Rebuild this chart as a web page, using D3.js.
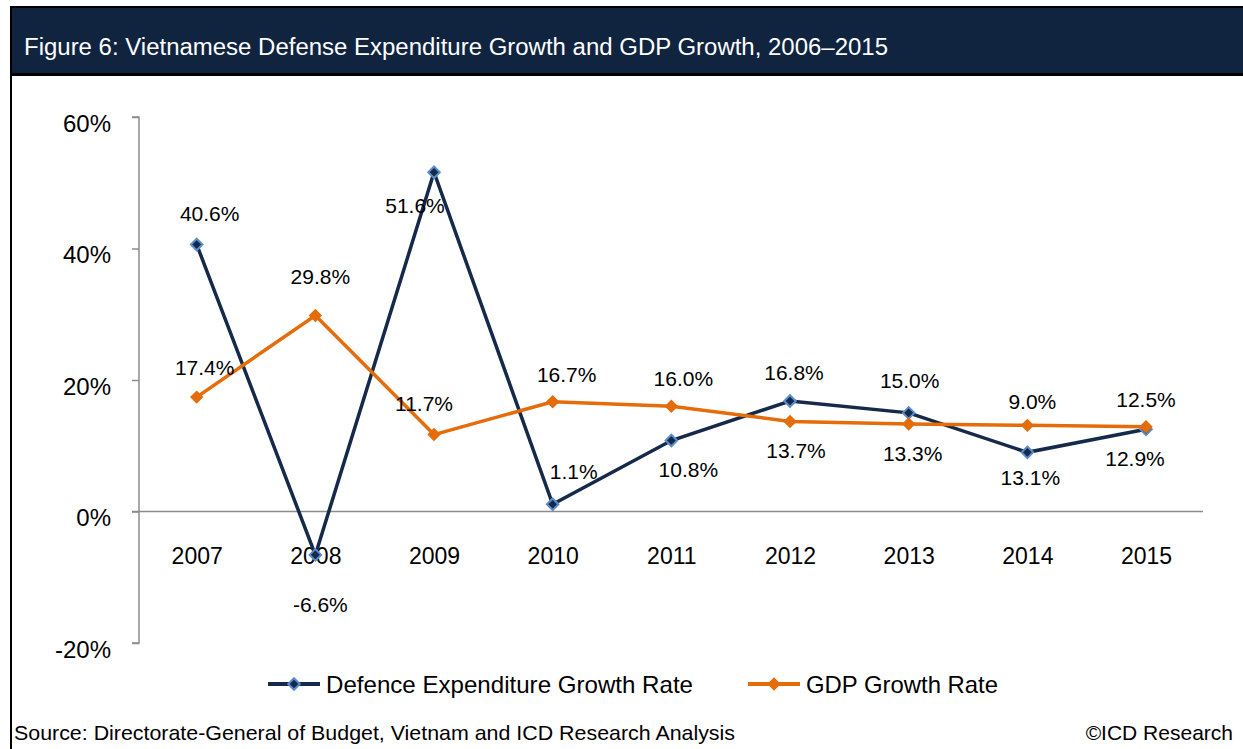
<!DOCTYPE html>
<html>
<head>
<meta charset="utf-8">
<script src="https://cdn.jsdelivr.net/npm/d3@7"></script>
<style>
  html, body { margin: 0; padding: 0; background: #ffffff; }
  svg { display: block; font-family: Arial, "Liberation Sans", sans-serif; }
</style>
</head>
<body>
<svg id="chart" width="1243" height="749"></svg>
<script>
// Years on the category axis
const years = ["2007", "2008", "2009", "2010", "2011", "2012", "2013", "2014", "2015"];

// Annual growth rates, in percent
const defenceGrowth = [40.6, -6.6, 51.6, 1.1, 10.8, 16.8, 15.0, 9.0, 12.5];
const gdpGrowth = [17.4, 29.8, 11.7, 16.7, 16.0, 13.7, 13.3, 13.1, 12.9];

// Value-axis ticks
const yTicks = [-20, 0, 20, 40, 60];

// Series names for the legend
const seriesNames = ["Defence Expenditure Growth Rate", "GDP Growth Rate"];

// Data-label placement relative to each marker (dx, dy of the label centre)
const defenceLabelShift = [[13, -31], [5, 50], [-19, 33], [21, -33], [17, 29], [4, -29], [1, -32], [5, -51], [0, -30]];
const gdpLabelShift = [[8, -30], [5, -39], [-10, -31], [14, -27], [12, -28], [6, 29], [4, 29], [3, 52], [-11, 32]];

const NAVY = "#11243f";
const LINE_NAVY = "#15294a";
const MARKER_EDGE = "#5b8ccc";
const ORANGE = "#e46c0a";
const AXIS_GREY = "#8c8c8c";

const svg = d3.select("#chart");

// Header band
svg.append("rect").attr("x", 10).attr("y", 6).attr("width", 1240).attr("height", 70).attr("fill", "#000");
svg.append("rect").attr("x", 12).attr("y", 8).attr("width", 1240).attr("height", 65).attr("fill", NAVY);
svg.append("text")
  .attr("x", 24).attr("y", 55)
  .attr("fill", "#ffffff")
  .attr("font-size", 23)
  .attr("textLength", 864).attr("lengthAdjust", "spacingAndGlyphs")
  .text("Figure 6: Vietnamese Defense Expenditure Growth and GDP Growth, 2006\u20132015");

// Left frame rule
svg.append("line").attr("x1", 11).attr("x2", 11).attr("y1", 76).attr("y2", 749)
  .attr("stroke", "#000").attr("stroke-width", 2);

// Scales
const x = d3.scalePoint().domain(years).range([196.7, 1146]);
const y = d3.scaleLinear().domain([-20, 60]).range([643, 117]);

// Value axis
const yAxis = d3.axisLeft(y).tickValues(yTicks).tickSize(7).tickFormat(d => d + "%");
const gy = svg.append("g").attr("transform", "translate(139,0)").call(yAxis);
gy.select(".domain").attr("stroke", AXIS_GREY).attr("stroke-width", 1.5)
  .attr("d", `M-7,${y(60)}H0V${y(-20)}H-7`);
gy.selectAll(".tick line").attr("stroke", AXIS_GREY).attr("stroke-width", 1.5);
gy.selectAll(".tick text")
  .attr("x", -28).attr("dy", "0.72em").attr("y", -3)
  .attr("fill", "#000").attr("font-size", 24)
  .attr("font-family", 'Arial, "Liberation Sans", sans-serif');

// Category axis along zero
const xAxis = d3.axisBottom(x).tickSize(0).tickPadding(36);
const gx = svg.append("g").attr("transform", `translate(0,${y(0)})`).call(xAxis);
gx.select(".domain").attr("stroke", AXIS_GREY).attr("stroke-width", 1.5)
  .attr("d", `M132,0H1203`);
gx.selectAll(".tick text")
  .attr("fill", "#000").attr("font-size", 23)
  .attr("font-family", 'Arial, "Liberation Sans", sans-serif');

const line = d3.line().x((d, i) => x(years[i])).y(d => y(d));
const diamond = d3.symbol().type(d3.symbolDiamond2);

// Defence expenditure series
svg.append("path").datum(defenceGrowth)
  .attr("d", line).attr("fill", "none")
  .attr("stroke", LINE_NAVY).attr("stroke-width", 3.5).attr("stroke-linejoin", "miter");
svg.append("g").selectAll("path").data(defenceGrowth).join("path")
  .attr("transform", (d, i) => `translate(${x(years[i])},${y(d)})`)
  .attr("d", diamond.size(85)())
  .attr("fill", LINE_NAVY).attr("stroke", MARKER_EDGE).attr("stroke-width", 2);

// GDP series
svg.append("path").datum(gdpGrowth)
  .attr("d", line).attr("fill", "none")
  .attr("stroke", ORANGE).attr("stroke-width", 3.5);
svg.append("g").selectAll("path").data(gdpGrowth).join("path")
  .attr("transform", (d, i) => `translate(${x(years[i])},${y(d)})`)
  .attr("d", diamond.size(115)())
  .attr("fill", ORANGE);

// Data labels
function labels(values, shifts) {
  svg.append("g").selectAll("text").data(values).join("text")
    .attr("x", (d, i) => x(years[i]) + shifts[i][0])
    .attr("y", (d, i) => y(d) + shifts[i][1])
    .attr("dy", "0.36em")
    .attr("text-anchor", "middle")
    .attr("font-size", 21)
    .attr("fill", "#000")
    .text(d => d.toFixed(1) + "%");
}
labels(defenceGrowth, defenceLabelShift);
labels(gdpGrowth, gdpLabelShift);

// Legend
const legend = svg.append("g").attr("transform", "translate(0,684)");
const legendItems = [
  { name: seriesNames[0], x0: 268, color: LINE_NAVY, edge: MARKER_EDGE, size: 85, textLen: 367 },
  { name: seriesNames[1], x0: 748, color: ORANGE, edge: null, size: 115, textLen: 192 }
];
legendItems.forEach(it => {
  legend.append("line").attr("x1", it.x0).attr("x2", it.x0 + 52).attr("y1", 0).attr("y2", 0)
    .attr("stroke", it.color).attr("stroke-width", 4);
  legend.append("path").attr("transform", `translate(${it.x0 + 26},0)`)
    .attr("d", diamond.size(it.size)())
    .attr("fill", it.color)
    .attr("stroke", it.edge || "none").attr("stroke-width", 2);
  legend.append("text").attr("x", it.x0 + 58).attr("y", 9)
    .attr("font-size", 24).attr("fill", "#000")
    .attr("textLength", it.textLen).attr("lengthAdjust", "spacingAndGlyphs")
    .text(it.name);
});

// Footer
svg.append("text").attr("x", 14).attr("y", 740)
  .attr("font-size", 21).attr("fill", "#000")
  .attr("textLength", 721).attr("lengthAdjust", "spacingAndGlyphs")
  .text("Source: Directorate-General of Budget, Vietnam and ICD Research Analysis");
svg.append("text").attr("x", 1233).attr("y", 740)
  .attr("text-anchor", "end")
  .attr("font-size", 21).attr("fill", "#000")
  .text("\u00a9ICD Research");
</script>
</body>
</html>
